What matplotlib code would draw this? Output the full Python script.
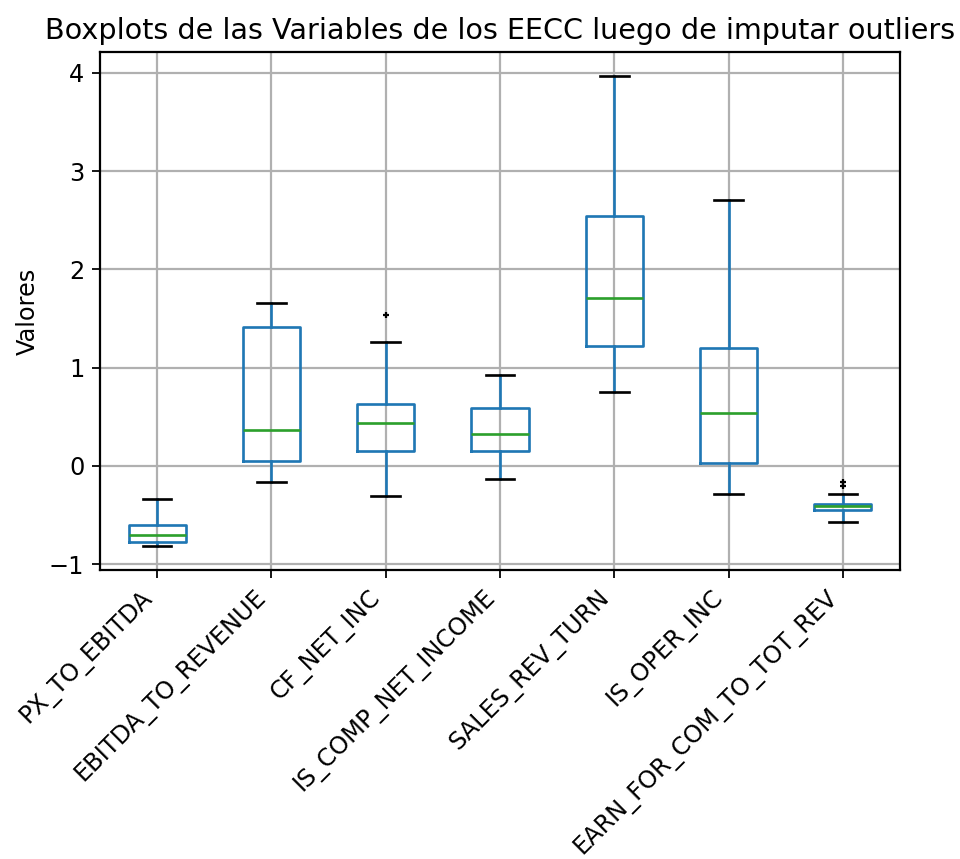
import matplotlib
matplotlib.use("Agg")
import matplotlib.pyplot as plt

variables = ["PX_TO_EBITDA", "EBITDA_TO_REVENUE", "CF_NET_INC", "IS_COMP_NET_INCOME",
             "SALES_REV_TURN", "IS_OPER_INC", "EARN_FOR_COM_TO_TOT_REV"]
whisker_low = [-0.821, -0.166, -0.312, -0.136, 0.756, -0.288, -0.577]
q1 = [-0.777, 0.051, 0.146, 0.153, 1.221, 0.024, -0.455]
median = [-0.700, 0.366, 0.438, 0.319, 1.710, 0.539, -0.407]
q3 = [-0.600, 1.410, 0.631, 0.587, 2.541, 1.194, -0.384]
whisker_high = [-0.339, 1.656, 1.265, 0.926, 3.972, 2.704, -0.288]
outliers = [[], [], [1.537], [], [], [], [-0.170, -0.204]]

stats = [
    dict(label=v, whislo=lo, q1=a, med=m, q3=b, whishi=hi, fliers=f)
    for v, lo, a, m, b, hi, f in zip(variables, whisker_low, q1, median, q3,
                                      whisker_high, outliers)
]

plt.rcParams["font.size"] = 10.8
plt.rcParams["axes.titlesize"] = 12.9
plt.rcParams["lines.linewidth"] = 1.2
plt.rcParams["axes.linewidth"] = 1.0
plt.rcParams["grid.linewidth"] = 1.0

fig = plt.figure(figsize=(6.0, 859 / 160), dpi=160)
ax = fig.add_axes([100 / 960, (859 - 570) / 859, 800 / 960, (570 - 52) / 859])

ax.bxp(
    stats,
    boxprops=dict(color="C0", linewidth=1.2),
    whiskerprops=dict(color="C0", linewidth=1.2),
    medianprops=dict(color="C2", linewidth=1.2),
    capprops=dict(color="k", linewidth=1.2),
    flierprops=dict(marker="+", markersize=3, markeredgecolor="k",
                    markerfacecolor="k", linestyle="none"),
)
ax.grid(True)
ax.set_xticks(range(1, len(variables) + 1))
ax.set_xticklabels(variables, rotation=45, ha="right")
ax.set_ylabel("Valores")
ax.set_title("Boxplots de las Variables de los EECC luego de imputar outliers")

fig.savefig("out.png", dpi=160)
